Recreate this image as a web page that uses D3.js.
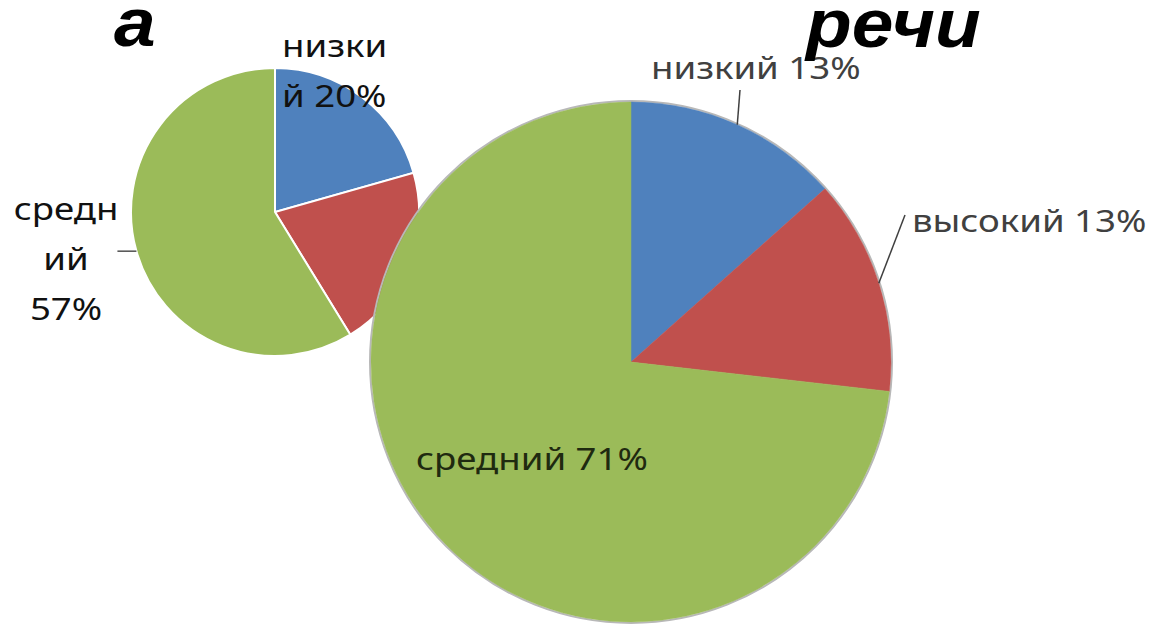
<!DOCTYPE html>
<html>
<head>
<meta charset="utf-8">
<script src="https://cdn.jsdelivr.net/npm/d3@7"></script>
<style>
  body { margin: 0; background: #fff; }
  svg text { font-family: "Noto Sans", "Open Sans", sans-serif; }
</style>
</head>
<body>
<div id="chart"></div>
<script>
// data
var categories = ["низкий", "высокий", "средний"];
var leftValues = [20, 20, 57];     // первый круг (высокий скрыт под вторым)
var rightValues = [13, 13, 71];    // "речи"
var leftLabels = [["низки", "й 20%"], ["высокий 20%"], ["средн", "ий", "57%"]];
var rightLabels = ["низкий 13%", "высокий 13%", "средний 71%"];
var titles = ["а", "речи"];
var colors = ["#4f81bd", "#c0504d", "#9bbb59"];

var W = 1157, H = 627;
var svg = d3.select("#chart").append("svg")
    .attr("width", W).attr("height", H);

var color = d3.scaleOrdinal().domain(categories).range(colors);
var pie = d3.pie().sort(null).value(function(d){ return d.v; });

function pieData(vals){
  return pie(vals.map(function(v, i){ return {c: categories[i], v: v}; }));
}
function edge(a, r){ return [Math.sin(a) * r, -Math.cos(a) * r]; }
// text is a bit wider in the original, so stretch it horizontally
var SX = 1.18;
function label(g, x, y, anchor){
  return g.append("text")
    .attr("transform", "translate(" + x + "," + y + ") scale(" + SX + ",1)")
    .attr("text-anchor", anchor || "start")
    .attr("font-size", 31);
}

// ---- small pie
var r1 = 144;
var g1 = svg.append("g").attr("transform", "translate(275,212)");
var arcs1 = pieData(leftValues);
var arc1 = d3.arc().innerRadius(0).outerRadius(r1);
g1.selectAll("path").data(arcs1).enter().append("path")
    .attr("d", arc1)
    .attr("fill", function(d){ return color(d.data.c); })
    .attr("stroke", "#fff").attr("stroke-width", 2);

// label offsets relative to pie centre (layout only)
var leftPos = [
  {x: 7, y: -155, anchor: "start"},
  {x: 150, y: 60, anchor: "start"},
  {x: -209, y: 8, anchor: "middle"}
];
arcs1.forEach(function(d, i){
  var p = leftPos[i];
  var t = label(g1, p.x, p.y, p.anchor).attr("fill", "#111");
  leftLabels[i].forEach(function(s, k){
    t.append("tspan").attr("x", 0).attr("dy", k === 0 ? 0 : 50).text(s);
  });
});
// leader for средний
(function(){
  var d = arcs1[2];
  var m = (d.startAngle + d.endAngle) / 2;
  var e = edge(m, r1);
  g1.append("line")
    .attr("x1", e[0]).attr("y1", e[1])
    .attr("x2", e[0] - 19).attr("y2", e[1])
    .attr("stroke", "#222").attr("stroke-width", 1.2);
})();

// ---- big pie
var r2 = 260;
var g2 = svg.append("g").attr("transform", "translate(631,362)");
var arcs2 = pieData(rightValues);
var arc2 = d3.arc().innerRadius(0).outerRadius(r2);
g2.append("circle").attr("r", r2 + 1).attr("fill", "none")
    .attr("stroke", "#b8b8b8").attr("stroke-width", 2);
g2.selectAll("path").data(arcs2).enter().append("path")
    .attr("d", arc2)
    .attr("fill", function(d){ return color(d.data.c); })
    .attr("stroke", function(d){ return color(d.data.c); })
    .attr("stroke-width", 0.5);

var rightPos = [
  {x: 20, y: -283, lx: 109, ly: -272},
  {x: 281, y: -130, lx: 274, ly: -147},
  {x: -215, y: 108, lx: null, ly: null}
];
arcs2.forEach(function(d, i){
  var p = rightPos[i];
  label(g2, p.x, p.y)
    .attr("fill", i === 2 ? "#1f2a10" : "#404040")
    .text(rightLabels[i]);
  if (p.lx !== null) {
    var m = (d.startAngle + d.endAngle) / 2;
    var e = edge(m, r2);
    g2.append("line")
      .attr("x1", e[0]).attr("y1", e[1])
      .attr("x2", p.lx).attr("y2", p.ly)
      .attr("stroke", "#404040").attr("stroke-width", 1.5);
  }
});

// ---- titles (bold italic, cut at the top)
[[titles[0], 114, 46], [titles[1], 806, 47]].forEach(function(t){
  svg.append("text")
    .attr("transform", "translate(" + t[1] + "," + t[2] + ") scale(1.1,1)")
    .attr("font-size", 68).attr("font-weight", "bold").attr("font-style", "italic")
    .style("font-family", "'Liberation Sans', Arial, sans-serif")
    .text(t[0]);
});
</script>
</body>
</html>
